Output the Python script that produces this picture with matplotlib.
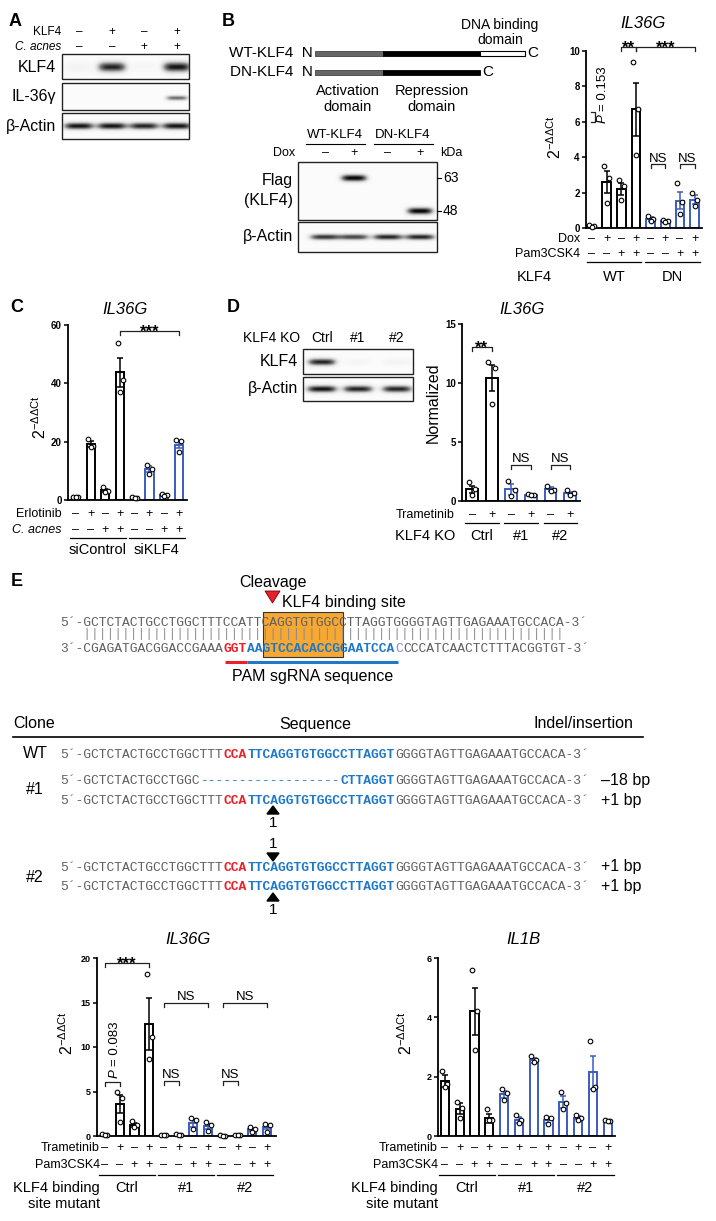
import numpy as np
import matplotlib
matplotlib.use('Agg')
import matplotlib.pyplot as plt
from matplotlib.patches import Rectangle, Polygon
from matplotlib.transforms import blended_transform_factory

plt.rcParams['font.family'] = ['Liberation Sans', 'DejaVu Sans']
plt.rcParams['mathtext.fontset'] = 'custom'
plt.rcParams['mathtext.rm'] = 'Liberation Sans'
plt.rcParams['mathtext.it'] = 'Liberation Sans:italic'
plt.rcParams['mathtext.default'] = 'regular'

W, H = 716, 1221
BLUE = '#3a5cc0'
RED = '#e8202a'
SEQBLUE = '#1f78c8'
GREY = '#5f5f5f'

# -----------------------------
# Data
# -----------------------------
# A: western blot band intensities (lanes: KLF4 -,+,-,+)
a_klf4 = ['–', '+', '–', '+']
a_cacnes = ['–', '–', '+', '+']
a_band_klf4 = [0.07, 0.85, 0.05, 0.9]
a_band_il36 = [0.0, 0.0, 0.0, 0.6]
a_band_actin = [0.9, 0.9, 0.85, 0.9]

# B: flag / actin blots
b_dox = ['–', '+', '–', '+']
b_band_flag = [0.0, 0.95, 0.0, 0.95]
b_band_actin = [0.8, 0.75, 0.85, 0.85]

# B: IL36G qPCR
b_mean = [0.1, 2.6, 2.2, 6.7, 0.5, 0.4, 1.55, 1.6]
b_sem = [0.03, 0.6, 0.35, 1.5, 0.1, 0.05, 0.5, 0.25]
b_pts = [[0.15, 0.1, 0.05], [3.5, 2.8, 1.4], [2.7, 2.4, 1.6], [9.4, 6.7, 4.1],
         [0.7, 0.5, 0.4], [0.45, 0.4, 0.35], [2.55, 1.45, 0.8], [1.95, 1.6, 1.25]]
b_row1 = ['–', '+', '–', '+', '–', '+', '–', '+']
b_row2 = ['–', '–', '+', '+', '–', '–', '+', '+']

# C: IL36G, siControl vs siKLF4
c_mean = [1.0, 19.2, 3.3, 43.8, 0.7, 10.6, 1.8, 18.9]
c_sem = [0.1, 1.0, 0.5, 5.0, 0.15, 0.9, 0.25, 1.2]
c_pts = [[1.1, 0.9, 1.0], [21.0, 18.6, 18.2], [4.3, 3.0, 2.7], [54.0, 41.0, 37.0],
         [0.9, 0.6, 0.6], [12.0, 10.8, 9.0], [2.2, 1.7, 1.5], [20.6, 20.1, 16.5]]

# D: KLF4 KO blot + IL36G
d_band_klf4 = [0.85, 0.05, 0.07]
d_band_actin = [0.9, 0.85, 0.85]
d_mean = [1.0, 10.4, 1.0, 0.55, 1.0, 0.7]
d_sem = [0.3, 1.1, 0.45, 0.05, 0.15, 0.1]
d_pts = [[1.6, 1.0, 0.5], [11.8, 11.3, 8.2], [1.7, 0.9, 0.45],
         [0.6, 0.55, 0.5], [1.3, 0.9, 0.85], [0.9, 0.7, 0.5]]
d_row = ['–', '+', '–', '+', '–', '+']

# E: bottom qPCR panels
e_row1 = ['–', '+', '–', '+'] * 3
e_row2 = ['–', '–', '+', '+'] * 3
il36_mean = [0.15, 3.6, 1.25, 12.6, 0.1, 0.15, 1.5, 1.1, 0.05, 0.1, 0.75, 1.0]
il36_sem = [0.03, 1.0, 0.2, 2.9, 0.02, 0.03, 0.45, 0.3, 0.02, 0.03, 0.15, 0.25]
il36_pts = [[0.2, 0.15, 0.1], [5.0, 4.3, 1.6], [1.7, 1.2, 1.0], [18.2, 11.1, 8.6],
            [0.12, 0.1, 0.08], [0.2, 0.15, 0.12], [2.0, 1.8, 0.8], [1.6, 1.2, 0.6],
            [0.07, 0.05, 0.04], [0.15, 0.1, 0.08], [1.0, 0.8, 0.5], [1.4, 1.2, 0.5]]
il1b_mean = [1.85, 0.92, 4.2, 0.6, 1.4, 0.55, 2.55, 0.55, 1.15, 0.62, 2.15, 0.52]
il1b_sem = [0.2, 0.18, 0.78, 0.15, 0.12, 0.1, 0.08, 0.1, 0.2, 0.05, 0.55, 0.02]
il1b_pts = [[2.2, 1.75, 1.65], [1.15, 0.95, 0.6], [5.6, 4.2, 2.9], [0.9, 0.55, 0.55],
            [1.6, 1.45, 1.2], [0.7, 0.55, 0.45], [2.7, 2.55, 2.5], [0.65, 0.6, 0.4],
            [1.5, 1.1, 0.9], [0.7, 0.6, 0.55], [3.2, 1.65, 1.6], [0.53, 0.52, 0.5]]

# E: sequences (text, colour key, bold)
seq_top = [('5´-GCTCTACTGCCTGGCTTTCCATTCAGGTGTGGCCTTAGGTGGGGTAGTTGAGAAATGCCACA-3´', 'g', False)]
seq_pipes = [('   ' + '|' * 62, 'l', False)]
seq_bottom = [('3´-CGAGATGACGGACCGAAA', 'g', False), ('GGT', 'r', True),
              ('AAGTCCACACCGGAATCCA', 'b', True), ('C', 'p', False),
              ('CCCATCAACTCTTTACGGTGT-3´', 'g', False)]
seq_wt = [('5´-GCTCTACTGCCTGGCTTT', 'g', False), ('CCA', 'r', True),
          ('TTCAGGTGTGGCCTTAGGT', 'b', True), ('GGGGTAGTTGAGAAATGCCACA-3´', 'g', False)]
seq_del = [('5´-GCTCTACTGCCTGGC', 'g', False), ('-' * 18, 'b', False),
           ('CTTAGGT', 'b', True), ('GGGGTAGTTGAGAAATGCCACA-3´', 'g', False)]
clones = ['WT', '#1', '#2']
indels = ['–18 bp', '+1 bp', '+1 bp', '+1 bp']

# -----------------------------
# Figure + pixel overlay
# -----------------------------
fig = plt.figure(figsize=(W / 100, H / 100), dpi=100)
ov = fig.add_axes([0, 0, 1, 1])
ov.set_autoscale_on(False)
ov.set_xlim(0, W)
ov.set_ylim(H, 0)
ov.axis('off')


def txt(x, y, s, fs=10, ha='center', va='center', **kw):
    return ov.text(x, y, s, fontsize=fs, ha=ha, va=va, **kw)


def panel_label(x, y, s):
    txt(x, y, s, fs=13, fontweight='bold')


def blot(x0, y0, x1, y1, lane_x, inten, band_y, hh, hw, bg=0.03):
    xs = np.arange(x0, x1) + 0.5
    ys = np.arange(y0, y1) + 0.5
    img = np.full((len(ys), len(xs)), bg)
    by = np.broadcast_to(band_y, (len(lane_x),))
    for lx, v, yy in zip(lane_x, inten, by):
        img += v * np.exp(-((xs[None, :] - lx) / hw) ** 4) * np.exp(-((ys[:, None] - yy) / hh) ** 2)
    ov.imshow(np.clip(img, 0, 1), cmap='Greys', vmin=0, vmax=1, extent=(x0, x1, y1, y0),
              aspect='auto', interpolation='bilinear', zorder=1)
    ov.add_patch(Rectangle((x0, y0), x1 - x0, y1 - y0, fill=False, ec='#222222', lw=1, zorder=2))


OFFS = np.array([-0.17, 0.17, 0.0])


def bars(rect, xlim, ylim, yticks, means, sems, pts, colors, width, tfs=7):
    x0, y0, x1, y1 = rect
    ax = fig.add_axes([x0 / W, 1 - y1 / H, (x1 - x0) / W, (y1 - y0) / H])
    xs = np.arange(len(means))
    ax.bar(xs, means, width, color='white', edgecolor=colors, linewidth=1.4, zorder=2)
    for i in xs:
        ax.errorbar(i, means[i], yerr=sems[i], color=colors[i], lw=1.1,
                    capsize=2.2, capthick=1.1, zorder=3)
        p = pts[i]
        ax.scatter(i + OFFS[:len(p)], p, s=11, facecolor='white', edgecolor='black',
                   linewidth=0.8, zorder=4, clip_on=False)
    ax.set_xlim(xlim)
    ax.set_ylim(ylim)
    ax.set_yticks(yticks)
    ax.set_xticks([])
    for s in ['top', 'right']:
        ax.spines[s].set_visible(False)
    for s in ['left', 'bottom']:
        ax.spines[s].set_linewidth(1.3)
    ax.tick_params(axis='y', length=3, width=1.1, labelsize=tfs, pad=1.5)
    for t in ax.get_yticklabels():
        t.set_fontweight('bold')
    ax.patch.set_visible(False)
    return ax


def tr_of(ax):
    return blended_transform_factory(ax.transData, ov.transData)


def row(ax, y, marks, fs=9):
    tr = tr_of(ax)
    for i, m in enumerate(marks):
        ov.text(i, y, m, transform=tr, ha='center', va='center', fontsize=fs)


def groups(ax, y_line, y_text, spans, labels, fs, pad=0.4):
    tr = tr_of(ax)
    for (a, b), lab in zip(spans, labels):
        ov.plot([a - pad, b + pad], [y_line, y_line], transform=tr, color='black', lw=0.9)
        if lab:
            ov.text((a + b) / 2, y_text, lab, transform=tr, ha='center', va='center', fontsize=fs)


def bracket(ax, a, b, y, label, star=False, tick=4):
    tr = tr_of(ax)
    ov.plot([a, a, b, b], [y + tick, y, y, y + tick], transform=tr, color='#222222', lw=0.9)
    if star:
        ov.text((a + b) / 2, y + 6, label, transform=tr, ha='center', va='baseline',
                fontsize=12, fontweight='bold')
    elif label:
        ov.text((a + b) / 2, y - 2.5, label, transform=tr, ha='center', va='baseline', fontsize=9.5)


def pvalue(x, y, value, transform=None):
    # rotated "P = value", reading upward from y
    tr = transform if transform is not None else ov.transData
    ov.text(x, y, 'P', transform=tr, rotation=90, ha='center', va='bottom',
            fontsize=9.5, style='italic')
    ov.text(x, y - 12, '= ' + value, transform=tr, rotation=90, ha='center', va='bottom',
            fontsize=9.5)


YLAB = r'2$^{\mathregular{-\Delta\Delta Ct}}$'

# -----------------------------
# Panel A
# -----------------------------
panel_label(15, 21, 'A')
a_lx = [79, 112, 144, 177]
txt(61, 32, 'KLF4', fs=8.5, ha='right')
txt(61, 47, 'C. acnes', fs=8.5, ha='right', style='italic')
for lx, m1, m2 in zip(a_lx, a_klf4, a_cacnes):
    txt(lx, 32, m1, fs=8.5)
    txt(lx, 47, m2, fs=8.5)
blot(62, 54, 189, 79, a_lx, a_band_klf4, 67, 5, 14)
blot(62, 83, 189, 110, a_lx, a_band_il36, 98, 2.5, 11)
blot(62, 113, 189, 139, a_lx, a_band_actin, 126, 3.5, 15)
txt(56, 67, 'KLF4', fs=11.5, ha='right')
txt(56, 97, 'IL-36γ', fs=11.5, ha='right')
txt(56, 126, 'β-Actin', fs=11.5, ha='right')

# -----------------------------
# Panel B: schematic + blot
# -----------------------------
panel_label(228, 21, 'B')
txt(313, 53, 'WT-KLF4  N', fs=11, ha='right')
txt(313, 72, 'DN-KLF4  N', fs=11, ha='right')
for yc, has_dbd in [(53, True), (72, False)]:
    ov.add_patch(Rectangle((315, yc - 2.5), 68, 5, fc='#666666', ec='#444444', lw=0.6))
    ov.add_patch(Rectangle((383, yc - 2.5), 97, 5, fc='black', ec='black', lw=0.6))
    if has_dbd:
        ov.add_patch(Rectangle((480, yc - 2.5), 45, 5, fc='white', ec='black', lw=0.8))
        txt(527, yc, 'C', fs=11, ha='left')
    else:
        txt(482, yc, 'C', fs=11, ha='left')
txt(500, 25, 'DNA binding', fs=10)
txt(500, 40, 'domain', fs=10)
txt(348, 91, 'Activation', fs=10.5)
txt(348, 107, 'domain', fs=10.5)
txt(432, 91, 'Repression', fs=10.5)
txt(432, 107, 'domain', fs=10.5)

b_lx = [325, 354, 388, 420]
txt(335, 135, 'WT-KLF4', fs=9.5)
txt(403, 135, 'DN-KLF4', fs=9.5)
ov.plot([306, 365], [144, 144], color='black', lw=0.8)
ov.plot([374, 433], [144, 144], color='black', lw=0.8)
txt(295, 153, 'Dox', fs=9, ha='right')
for lx, m in zip(b_lx, b_dox):
    txt(lx, 153, m, fs=9)
txt(440, 153, 'kDa', fs=9, ha='left')
blot(298, 162, 437, 220, b_lx, b_band_flag, [178, 178, 211, 211], 3.5, 13)
blot(298, 222, 437, 252, b_lx, b_band_actin, 237, 3.0, 15)
txt(293, 181, 'Flag', fs=11.5, ha='right')
txt(293, 200, '(KLF4)', fs=11.5, ha='right')
txt(293, 237, 'β-Actin', fs=11.5, ha='right')
for yk, lab in [(178, '63'), (211, '48')]:
    ov.plot([437, 441], [yk, yk], color='black', lw=0.8)
    txt(443, yk, lab, fs=10, ha='left')

# B: bar chart
b_col = ['black'] * 4 + [BLUE] * 4
axB = bars((586, 51, 702, 228), (-0.4, 7.5), (0, 10), range(0, 11, 2),
           b_mean, b_sem, b_pts, b_col, 0.6)
txt(643, 23, 'IL36G', fs=12, style='italic')
txt(555, 137, YLAB, fs=11.5, rotation=90)
bracket(axB, 2, 3, 47, '**', star=True)
bracket(axB, 3, 7, 47, '***', star=True)
bracket(axB, 4, 5, 164, 'NS')
bracket(axB, 6, 7, 164, 'NS')
ov.plot([591, 595, 595, 591], [112, 112, 122, 122], color='#222222', lw=0.9)
pvalue(603, 123, '0.153')
txt(580, 239, 'Dox', fs=9, ha='right')
txt(580, 254, 'Pam3CSK4', fs=9, ha='right')
row(axB, 239, b_row1)
row(axB, 254, b_row2)
groups(axB, 262, 277, [(0, 3), (4, 7)], ['WT', 'DN'], 10.5, pad=0.35)
txt(552, 277, 'KLF4', fs=10.5, ha='right')

# -----------------------------
# Panel C
# -----------------------------
panel_label(17, 308, 'C')
txt(125, 309, 'IL36G', fs=12, style='italic')
axC = bars((68, 325, 187, 500), (-0.54, 7.55), (0, 60), [0, 20, 40, 60],
           c_mean, c_sem, c_pts, b_col, 0.55)
txt(40, 417, YLAB, fs=11.5, rotation=90)
bracket(axC, 3, 7, 331, '***', star=True)
txt(62, 514, 'Erlotinib', fs=9, ha='right')
txt(62, 530, 'C. acnes', fs=9, ha='right', style='italic')
row(axC, 514, b_row1)
row(axC, 530, b_row2)
groups(axC, 538, 550, [(0, 3), (4, 7)], ['siControl', 'siKLF4'], 10.5, pad=0.4)

# -----------------------------
# Panel D
# -----------------------------
panel_label(233, 308, 'D')
txt(522, 310, 'IL36G', fs=12, style='italic')
d_lx = [322, 358, 397]
txt(300, 338, 'KLF4 KO', fs=10, ha='right')
for lx, lab in zip(d_lx, ['Ctrl', '#1', '#2']):
    txt(lx, 338, lab, fs=10)
blot(303, 349, 413, 374, d_lx, d_band_klf4, 362, 3.5, 14)
blot(303, 377, 413, 401, d_lx, d_band_actin, 389, 3.5, 15)
txt(298, 362, 'KLF4', fs=11.5, ha='right')
txt(298, 389, 'β-Actin', fs=11.5, ha='right')
d_col = ['black'] * 2 + [BLUE] * 4
axD = bars((462, 324, 580, 501), (-0.51, 5.5), (0, 15), [0, 5, 10, 15],
           d_mean, d_sem, d_pts, d_col, 0.6)
txt(433, 403, 'Normalized', fs=11.5, rotation=90)
bracket(axD, 0, 1, 347, '**', star=True)
bracket(axD, 2, 3, 465, 'NS')
bracket(axD, 4, 5, 465, 'NS')
txt(455, 515, 'Trametinib', fs=9, ha='right')
row(axD, 515, d_row)
groups(axD, 523, 536, [(0, 1), (2, 3), (4, 5)], ['Ctrl', '#1', '#2'], 10.5, pad=0.35)
txt(455, 536, 'KLF4 KO', fs=10.5, ha='right')

# -----------------------------
# Panel E: sequences
# -----------------------------
panel_label(17, 582, 'E')
CW = 7.8
SEQ_FS = CW / 0.6 * 72 / 100
SEQ_COL = {'g': GREY, 'l': '#8a8a8a', 'r': RED, 'b': SEQBLUE, 'p': '#8a8ad8'}


def seq(x, y, parts):
    n = 0
    for s, c, bold in parts:
        ov.text(x + n * CW, y + 4, s, color=SEQ_COL[c], fontweight='bold' if bold else 'normal',
                family='Liberation Mono', fontsize=SEQ_FS, ha='left', va='baseline', zorder=5)
        n += len(s)


ov.add_patch(Rectangle((263, 612), 80, 45, fc='#f6a833', ec='#333333', lw=0.8, zorder=2))
seq(60, 622, seq_top)
seq(60, 633, seq_pipes)
seq(60, 648, seq_bottom)
ov.plot([225, 247], [662, 662], color=RED, lw=2.2, solid_capstyle='butt')
ov.plot([247, 398], [662, 662], color=SEQBLUE, lw=2.2, solid_capstyle='butt')
txt(313, 677, 'PAM sgRNA sequence', fs=11.5)
txt(273, 583, 'Cleavage', fs=11.5)
ov.add_patch(Polygon([[265, 591], [280, 591], [272.5, 603]], closed=True, fc=RED, ec='#7a0000', lw=0.6))
txt(282, 602, 'KLF4 binding site', fs=11.5, ha='left')

txt(13, 724, 'Clone', fs=11.5, ha='left')
txt(315, 724, 'Sequence', fs=11.5)
txt(633, 724, 'Indel/insertion', fs=11.5, ha='right')
ov.plot([13, 643], [737, 737], color='black', lw=1.2)

txt(35, 754, clones[0], fs=11.5)
seq(60, 754, seq_wt)
txt(35, 790, clones[1], fs=11.5)
seq(60, 780, seq_del)
seq(60, 800, seq_wt)
txt(35, 877, clones[2], fs=11.5)
seq(60, 867, seq_wt)
seq(60, 886, seq_wt)
for yy, lab in zip([780, 800, 867, 886], indels):
    txt(601, yy, lab, fs=11.5, ha='left')


def tri(xc, ytip, up=True, w=6, h=8):
    yb = ytip + h if up else ytip - h
    ov.add_patch(Polygon([[xc - w, yb], [xc + w, yb], [xc, ytip]], closed=True, fc='black', ec='black'))


tri(273, 806, up=True)
txt(273, 823, '1', fs=11)
txt(273, 844, '1', fs=11)
tri(273, 861, up=False)
tri(273, 893, up=True)
txt(273, 910, '1', fs=11)

# -----------------------------
# Bottom: IL36G and IL1B
# -----------------------------
e_col = ['black'] * 4 + [BLUE] * 8
axL = bars((97, 958, 276, 1136), (-0.54, 11.6), (0, 20), [0, 5, 10, 15, 20],
           il36_mean, il36_sem, il36_pts, e_col, 0.55, tfs=6.5)
axR = bars((438, 958, 615, 1136), (-0.47, 11.5), (0, 6), [0, 2, 4, 6],
           il1b_mean, il1b_sem, il1b_pts, e_col, 0.55, tfs=6.5)
txt(188, 940, 'IL36G', fs=12, style='italic')
txt(523, 940, 'IL1B', fs=12, style='italic')
txt(67, 1033, YLAB, fs=11.5, rotation=90)
txt(406, 1033, YLAB, fs=11.5, rotation=90)
bracket(axL, 0, 3, 963, '***', star=True)
bracket(axL, 4, 7, 1003, 'NS')
bracket(axL, 8, 11, 1003, 'NS')
bracket(axL, 4, 5, 1081, 'NS')
bracket(axL, 8, 9, 1081, 'NS')
bracket(axL, 0, 1, 1082, '')
pvalue(0.65, 1078, '0.083', transform=tr_of(axL))

for ax, xr in [(axL, 100), (axR, 438)]:
    txt(xr, 1148, 'Trametinib', fs=9, ha='right')
    txt(xr, 1165, 'Pam3CSK4', fs=9, ha='right')
    row(ax, 1148, e_row1)
    row(ax, 1165, e_row2)
    groups(ax, 1175, 1188, [(0, 3), (4, 7), (8, 11)], ['Ctrl', '#1', '#2'], 10.5, pad=0.4)
    txt(xr, 1188, 'KLF4 binding', fs=10.5, ha='right')
    txt(xr, 1204, 'site mutant', fs=10.5, ha='right')

ov.set_xlim(0, W)
ov.set_ylim(H, 0)
fig.savefig('out.png', dpi=100)
